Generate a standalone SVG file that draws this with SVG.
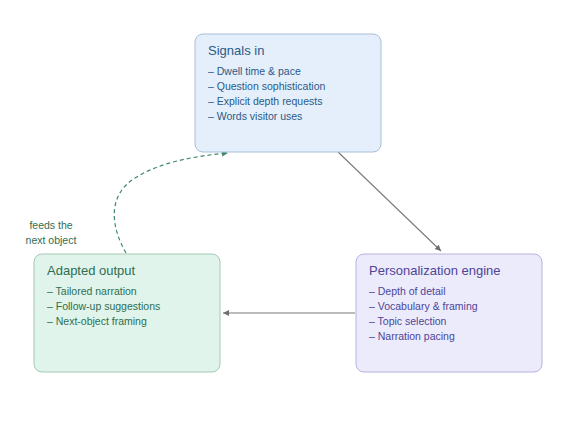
<svg xmlns="http://www.w3.org/2000/svg" width="575" height="440" viewBox="0 0 575 440">
<style>
text{font-family:"Liberation Sans",Arial,sans-serif}
.t{font-size:13px}
.i{font-size:10.5px}
.blue rect{fill:#e4effb;stroke:#a9bfd8;stroke-width:1}
.blue text{fill:#2b5a88}
.purple rect{fill:#ecebfc;stroke:#b7b2dc;stroke-width:1}
.purple text{fill:#4e4596}
.green rect{fill:#e0f4eb;stroke:#a2c9b3;stroke-width:1}
.green text{fill:#2f6e50}
.c{fill:none;stroke:#7a7a7a;stroke-width:1.1}
.d{fill:none;stroke:#3f8a6a;stroke-width:1.2;stroke-dasharray:4 3}
</style>
<defs>
<marker id="ag" markerWidth="8" markerHeight="8" refX="6" refY="3" orient="auto" markerUnits="userSpaceOnUse"><path d="M0,0 L6,3 L0,6 z" fill="#6e6e6e"/></marker>
<marker id="agr" markerWidth="8" markerHeight="8" refX="6" refY="3" orient="auto" markerUnits="userSpaceOnUse"><path d="M0,0 L6,3 L0,6 z" fill="#3f8a6a"/></marker>
</defs>
<rect width="575" height="440" fill="#ffffff"/>
<g id="connectors">
<path class="c" d="M338,152 L441,251" marker-end="url(#ag)"/>
<path class="c" d="M355,313 L223,313" marker-end="url(#ag)"/>
<path class="d" d="M126,253 C110,225 108,195 135,178 C160,162 195,156 228,153" marker-end="url(#agr)"/>
<text x="51" y="229" font-size="10.5" fill="#2f6e50" text-anchor="middle">feeds the</text>
<text x="51" y="244" font-size="10.5" fill="#2f6e50" text-anchor="middle">next object</text>
</g>
<g id="signals" class="blue">
<rect x="195" y="34" width="186" height="118" rx="8"/>
<text class="t" x="208" y="55">Signals in</text>
<text class="i" x="208" y="75">– Dwell time &amp; pace</text>
<text class="i" x="208" y="90">– Question sophistication</text>
<text class="i" x="208" y="105">– Explicit depth requests</text>
<text class="i" x="208" y="120">– Words visitor uses</text>
</g>
<g id="engine" class="purple">
<rect x="356" y="254" width="186" height="118" rx="8"/>
<text class="t" x="369" y="275">Personalization engine</text>
<text class="i" x="369" y="295">– Depth of detail</text>
<text class="i" x="369" y="310">– Vocabulary &amp; framing</text>
<text class="i" x="369" y="325">– Topic selection</text>
<text class="i" x="369" y="340">– Narration pacing</text>
</g>
<g id="output" class="green">
<rect x="34" y="254" width="186" height="118" rx="8"/>
<text class="t" x="47" y="275">Adapted output</text>
<text class="i" x="47" y="295">– Tailored narration</text>
<text class="i" x="47" y="310">– Follow-up suggestions</text>
<text class="i" x="47" y="325">– Next-object framing</text>
</g>
</svg>
